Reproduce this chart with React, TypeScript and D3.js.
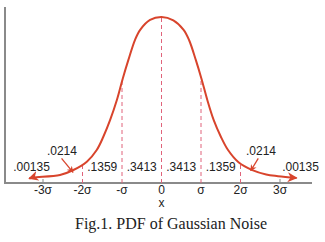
import React from 'react';
import { scaleLinear, line, curveCatmullRom } from 'd3';

// curve, x in sigma units, y as density
const curveX = [-3.35, -3.25, -2.57, -2.23, -1.89, -1.64, -1.47, -1.3, -1.13, -0.98, -0.84, -0.67, -0.54, -0.29, 0, 0.3, 0.56, 0.7, 0.87, 1.01, 1.16, 1.32, 1.5, 1.68, 1.95, 2.3, 2.65, 2.95, 3.42];
const curveY = [0.011, 0.0133, 0.0193, 0.0313, 0.0513, 0.0795, 0.112, 0.152, 0.2, 0.252, 0.296, 0.345, 0.369, 0.393, 0.4, 0.392, 0.369, 0.344, 0.296, 0.252, 0.2, 0.152, 0.112, 0.08, 0.05, 0.031, 0.0205, 0.0165, 0.012];

const tickVals = [-3, -2, -1, 0, 1, 2, 3];
const tickLabels = ['-3σ', '-2σ', '-σ', '0', 'σ', '2σ', '3σ'];

// dashed guides: where they stand and how high they reach
const guideX = [-2, -1, 0, 1, 2];
const guideTop = [0.044, 0.25, 0.4, 0.25, 0.044];

const areaLabels = ['.1359', '.3413', '.3413', '.1359'];
const areaX = [-1.5, -0.5, 0.5, 1.5];

const tailLabels = ['.00135', '.00135'];
const tailX = [-3.29, 3.52];

const pointerLabels = ['.0214', '.0214'];
const pointerX = [-2.52, 2.52];
const pointerFrom = [[-2.53, 0.0595], [2.45, 0.0595]];
const pointerTo = [[-2.24, 0.0258], [2.26, 0.0296]];

const W = 325;
const H = 242;
const RED = '#d8442c';

export default function App() {
  const x = scaleLinear().domain([-3, 3]).range([43, 280]);
  const y = scaleLinear().domain([0, 0.4]).range([183, 17]);

  const pts = curveX.map((v, i) => [v, curveY[i]]);
  const path = line()
    .x(d => x(d[0]))
    .y(d => y(d[1]))
    .curve(curveCatmullRom.alpha(0.5))(pts);

  const numFont = 'Liberation Sans, Arial, sans-serif';

  return (
    <svg width={W} height={H} style={{ position: 'absolute', left: 0, top: 0, background: '#fff' }}>
      <defs>
        <marker id="arr" viewBox="0 0 10 10" refX="9" refY="5" markerWidth="5" markerHeight="5" orient="auto-start-reverse">
          <path d="M0,0 L10,5 L0,10 L3,5 Z" fill={RED} />
        </marker>
      </defs>

      {/* axes */}
      <line x1={5} x2={5} y1={7} y2={y(0)} stroke="#8a8a8a" strokeWidth={2} />
      <line x1={4} x2={312} y1={y(0)} y2={y(0)} stroke="#8a8a8a" strokeWidth={2} />
      {[-3, 3].map(t => (
        <line key={t} x1={x(t)} x2={x(t)} y1={y(0) - 4} y2={y(0)} stroke="#8a8a8a" strokeWidth={1} />
      ))}

      {/* dashed guides */}
      {guideX.map((g, i) => (
        <line key={g} x1={x(g)} x2={x(g)} y1={y(0)} y2={y(guideTop[i])}
          stroke="#e0637a" strokeWidth={1} strokeDasharray="4,3" />
      ))}

      {/* curve */}
      <path d={path} fill="none" stroke={RED} strokeWidth={2}
        markerStart="url(#arr)" markerEnd="url(#arr)" />

      {/* pointers */}
      {pointerFrom.map((f, i) => (
        <line key={i} x1={x(f[0])} y1={y(f[1])} x2={x(pointerTo[i][0])} y2={y(pointerTo[i][1])}
          stroke={RED} strokeWidth={1.3} markerEnd="url(#arr)" />
      ))}

      <g fontFamily={numFont} fontSize={12} fill="#222" textAnchor="middle">
        {areaLabels.map((t, i) => (
          <text key={i} x={x(areaX[i])} y={170.5}>{t}</text>
        ))}
        {tailLabels.map((t, i) => (
          <text key={i} x={x(tailX[i])} y={170.5}>{t}</text>
        ))}
        {pointerLabels.map((t, i) => (
          <text key={i} x={x(pointerX[i])} y={155}>{t}</text>
        ))}
        {tickVals.map((t, i) => (
          <text key={t} x={x(t)} y={194}>{tickLabels[i]}</text>
        ))}
        <text x={x(0)} y={207}>x</text>
      </g>

      <text x={171} y={229} textAnchor="middle" fontFamily="Liberation Serif, Times New Roman, serif"
        fontSize={16} fill="#222">Fig.1. PDF of Gaussian Noise</text>
    </svg>
  );
}
